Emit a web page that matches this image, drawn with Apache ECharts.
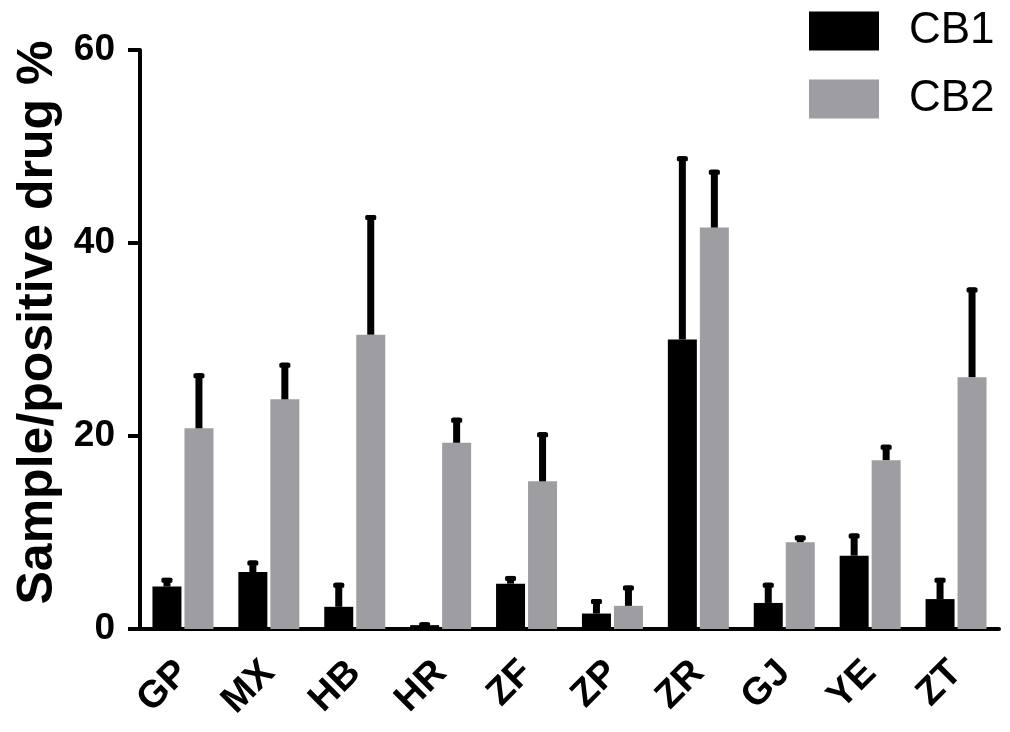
<!DOCTYPE html>
<html>
<head>
<meta charset="utf-8">
<script src="https://cdn.jsdelivr.net/npm/echarts@6/dist/echarts.min.js"></script>
<style>html,body{margin:0;padding:0;background:#fff}#c{width:1010px;height:732px}</style>
</head>
<body>
<div id="c"></div>
<script>
const categories = ['GP','MX','HB','HR','ZF','ZP','ZR','GJ','YE','ZT'];
const cb1 = [4.4, 5.9, 2.3, 0.4, 4.7, 1.6, 30.0, 2.7, 7.6, 3.1];
const cb1Err = [0.9, 1.2, 2.5, 0.3, 0.8, 1.5, 19.0, 2.1, 2.3, 2.2];
const cb2 = [20.8, 23.8, 30.5, 19.3, 15.3, 2.4, 41.6, 9.0, 17.5, 26.1];
const cb2Err = [5.7, 3.8, 12.4, 2.6, 5.1, 2.1, 6.0, 0.7, 1.6, 9.3];
const yTicks = [0, 20, 40, 60];

const FONT = 'Arial, "Liberation Sans", sans-serif';
const BAR_W = 29, BAR_GAP = 3;

function errRender(dx) {
  return function (params, api) {
    const i = api.value(0), v = api.value(1), e = api.value(2);
    const p0 = api.coord([i, v]);
    const p1 = api.coord([i, v + e]);
    const x = p0[0] + dx;
    return {
      type: 'group',
      children: [
        {type: 'rect', shape: {x: x - 3.5, y: p1[1], width: 7, height: p0[1] - p1[1]}, style: {fill: '#000'}},
        {type: 'rect', shape: {x: x - 5.5, y: p1[1], width: 11, height: 5, r: 1.5}, style: {fill: '#000'}}
      ]
    };
  };
}

const chart = echarts.init(document.getElementById('c'), null, {renderer: 'canvas'});
chart.setOption({
  animation: false,
  backgroundColor: '#fff',
  textStyle: {fontFamily: FONT},
  grid: {left: 140, right: 11, top: 50, bottom: 103, containLabel: false},
  legend: {
    orient: 'vertical', left: 809, top: 9, padding: 0,
    itemWidth: 70, itemHeight: 39, itemGap: 24, icon: 'rect',
    data: ['CB1', 'CB2'],
    textStyle: {fontFamily: FONT, fontSize: 44, color: '#000', padding: [0, 0, 0, 25]}
  },
  xAxis: {
    type: 'category', data: categories,
    axisLine: {lineStyle: {color: '#000', width: 4}},
    axisTick: {alignWithLabel: true, length: 16, lineStyle: {color: '#000', width: 4}},
    axisLabel: {rotate: 45, margin: 38, fontSize: 38, fontWeight: 'bold', color: '#000', fontFamily: FONT}
  },
  yAxis: {
    type: 'value', min: yTicks[0], max: yTicks[yTicks.length - 1], interval: 20,
    name: 'Sample/positive drug %', nameLocation: 'middle', nameGap: 76,
    nameTextStyle: {fontSize: 50, fontWeight: 'bold', color: '#000', fontFamily: FONT, padding: [0, 0, 0, 34]},
    axisLine: {show: true, lineStyle: {color: '#000', width: 4}},
    axisTick: {show: true, length: 12, lineStyle: {color: '#000', width: 4}},
    axisLabel: {margin: 25, fontSize: 37, fontWeight: 'bold', color: '#000', fontFamily: FONT},
    splitLine: {show: false}
  },
  series: [
    {name: 'CB1', type: 'bar', data: cb1, barWidth: BAR_W, barGap: (BAR_GAP / BAR_W * 100) + '%', itemStyle: {color: '#000'}},
    {name: 'CB2', type: 'bar', data: cb2, barWidth: BAR_W, itemStyle: {color: '#9e9ea2'}},
    {type: 'custom', renderItem: errRender(-(BAR_W + BAR_GAP) / 2), data: cb1.map((v, i) => [i, v, cb1Err[i]]), z: 5, silent: true},
    {type: 'custom', renderItem: errRender((BAR_W + BAR_GAP) / 2), data: cb2.map((v, i) => [i, v, cb2Err[i]]), z: 5, silent: true}
  ]
});
</script>
</body>
</html>
